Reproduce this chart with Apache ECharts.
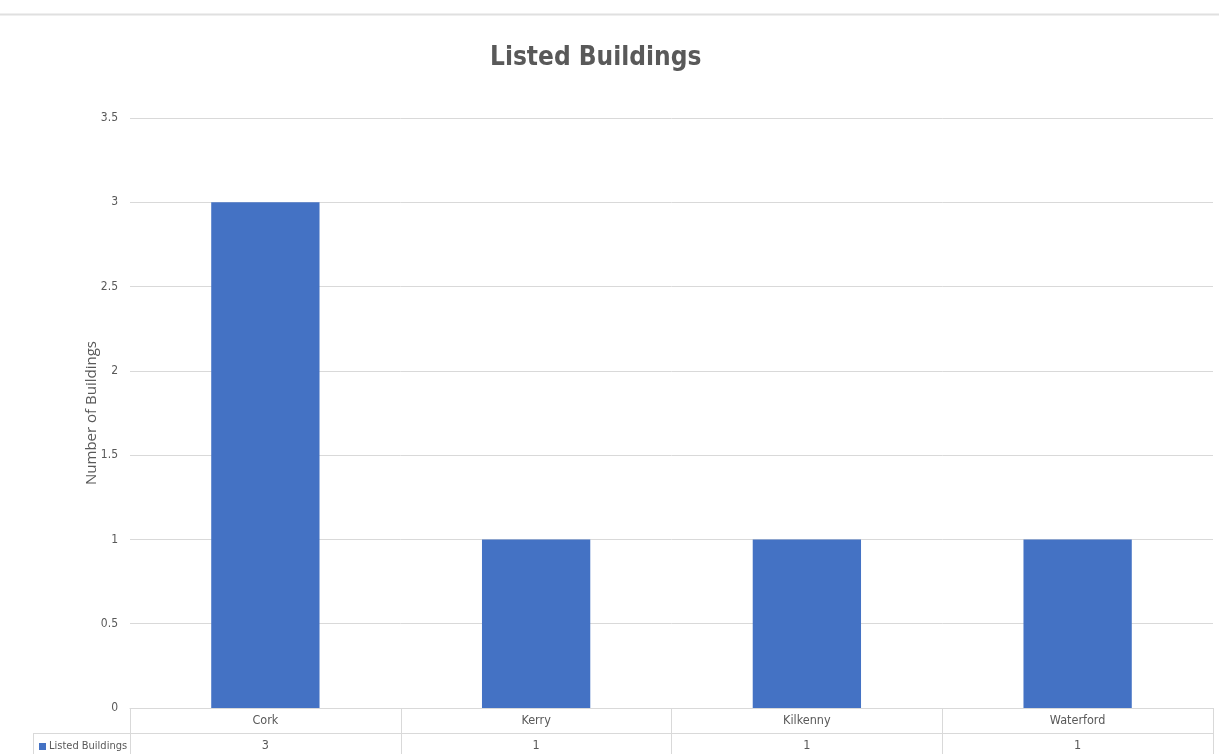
<!DOCTYPE html>
<html><head><meta charset="utf-8">
<script src="https://cdn.jsdelivr.net/npm/echarts@6/dist/echarts.min.js"></script>
<style>html,body{margin:0;padding:0;background:#fff}#c{width:1219px;height:754px}</style>
</head><body><div id="c"></div>
<script>
const categories = ['Cork', 'Kerry', 'Kilkenny', 'Waterford'];
const seriesName = 'Listed Buildings';
const values = [3, 1, 1, 1];
const yTicks = { min: 0, max: 3.5, interval: 0.5 };

const font = "'DejaVu Sans Condensed', 'Liberation Sans', sans-serif";
const gray = '#595959';
const lineCol = '#d9d9d9';
const chart = echarts.init(document.getElementById('c'));
const option = {
  animation: false,
  title: { text: 'Listed Buildings', left: 485, top: 40,
    textStyle: { fontFamily: font, fontSize: 26, fontWeight: 'bold', color: gray } },
  legend: { left: 34, top: 736, itemWidth: 7, itemHeight: 7, itemGap: 0, icon: 'rect',
    textStyle: { fontFamily: font, fontSize: 11, color: gray, padding: [0, 0, 0, -2] },
    data: [seriesName] },
  grid: { left: 130, right: 6, top: 118, bottom: 46, containLabel: false },
  xAxis: { type: 'category', data: categories,
    axisLine: { lineStyle: { color: lineCol } },
    axisTick: { show: true, length: 46, lineStyle: { color: lineCol } },
    axisLabel: { margin: 0, interval: 0,
      formatter: (v, i) => '{c|' + v + '}\n{v|' + values[i] + '}',
      rich: { c: { fontFamily: font, fontSize: 12.5, color: gray, lineHeight: 25 },
              v: { fontFamily: font, fontSize: 12.5, color: gray, lineHeight: 25 } } } },
  yAxis: { type: 'value', min: yTicks.min, max: yTicks.max, interval: yTicks.interval,
    name: 'Number of Buildings', nameLocation: 'middle', nameGap: 31, nameRotate: 90,
    nameMoveOverlap: false,
    nameTextStyle: { fontFamily: "'Open Sans', sans-serif", fontSize: 15, color: gray },
    axisLine: { show: false }, axisTick: { show: false },
    axisLabel: { fontFamily: font, fontSize: 12, color: gray, margin: 12 },
    splitLine: { lineStyle: { color: lineCol } } },
  series: [{ name: seriesName, type: 'bar', data: values, barWidth: '40%',
    itemStyle: { color: '#4472c4' } }]
};
chart.setOption(option);
const gridRect = chart.getModel().getComponent('grid').coordinateSystem.getRect();
const rowY = gridRect.y + gridRect.height + 25.5;
chart.setOption({ graphic: [
  { type: 'line', shape: { x1: 0, y1: 14.5, x2: 1219, y2: 14.5 }, style: { stroke: '#e0e0e0', lineWidth: 2 } },
  { type: 'line', shape: { x1: 33, y1: rowY, x2: gridRect.x + gridRect.width, y2: rowY }, style: { stroke: lineCol, lineWidth: 1 } },
  { type: 'line', shape: { x1: 33.5, y1: rowY - 0.5, x2: 33.5, y2: 754 }, style: { stroke: lineCol, lineWidth: 1 } }
]});
</script></body></html>
